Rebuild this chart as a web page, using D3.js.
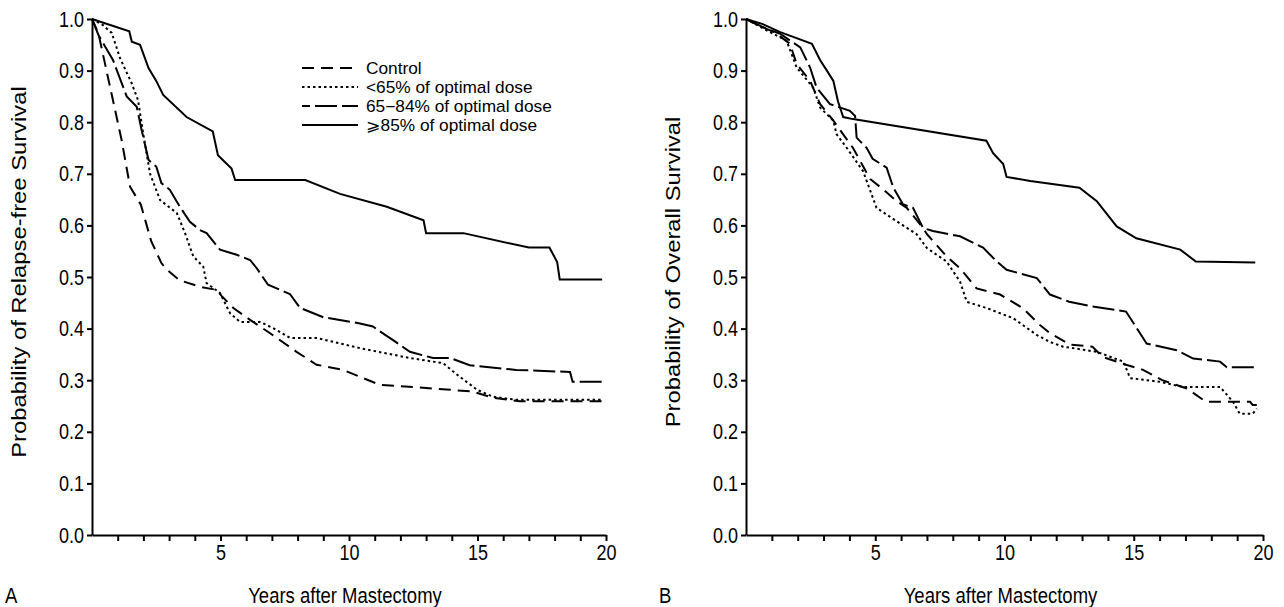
<!DOCTYPE html>
<html>
<head>
<meta charset="utf-8">
<script src="https://cdn.jsdelivr.net/npm/d3@7"></script>
<style>
  body { margin: 0; background: #fff; }
  text { font-family: Arial, "Liberation Sans", sans-serif; fill: #000; }
  .axis path, .axis line { stroke: #000; stroke-width: 2; }
  .axis text { font-size: 18px; }
  .curve { fill: none; stroke: #000; stroke-width: 2; }
</style>
</head>
<body>
<div id="chart"></div>
<script>
// survival curves, [year, probability]
const relapseControl = [[0,1],[0.25,0.972],[0.7,0.869],[1.15,0.766],[1.48,0.675],[1.9,0.64],[2.3,0.57],[2.7,0.527],[2.9,0.515],[3.4,0.494],[4.2,0.481],[4.85,0.475],[5.05,0.463],[5.5,0.44],[6.15,0.417],[6.9,0.392],[7.96,0.355],[8.74,0.33],[9.77,0.32],[10.4,0.307],[11.2,0.291],[13.0,0.285],[14.8,0.278],[15.6,0.266],[16.65,0.259],[19.9,0.259]];
const relapseLow = [[0,1],[0.43,0.988],[0.77,0.973],[1.09,0.924],[1.54,0.876],[1.79,0.843],[1.99,0.779],[2.26,0.7],[2.65,0.649],[3.3,0.624],[3.62,0.585],[3.94,0.54],[4.33,0.52],[4.46,0.488],[4.98,0.469],[5.37,0.43],[5.76,0.413],[6.54,0.413],[7.05,0.401],[7.7,0.382],[8.74,0.382],[10.43,0.362],[12.37,0.343],[13.66,0.333],[14.3,0.307],[15.0,0.281],[15.6,0.268],[16.5,0.262],[19.9,0.262]];
const relapseMid = [[0,1],[0.25,0.969],[0.82,0.92],[1.35,0.85],[1.74,0.83],[1.93,0.785],[2.2,0.727],[2.5,0.714],[2.7,0.682],[3.03,0.669],[3.42,0.636],[3.81,0.607],[4.2,0.591],[4.46,0.585],[4.98,0.553],[5.63,0.543],[6.15,0.533],[6.41,0.517],[6.85,0.485],[7.7,0.467],[8.1,0.44],[9.0,0.422],[10.43,0.41],[10.93,0.404],[11.7,0.378],[12.37,0.355],[13.27,0.343],[13.93,0.343],[14.7,0.329],[16.5,0.32],[18.6,0.316],[18.7,0.297],[19.9,0.297]];
const relapseHigh = [[0,1],[1.45,0.976],[1.55,0.956],[1.87,0.95],[2.2,0.905],[2.5,0.88],[2.77,0.853],[3.68,0.81],[4.7,0.782],[4.9,0.736],[5.43,0.71],[5.57,0.688],[8.3,0.688],[9.65,0.661],[11.47,0.636],[12.9,0.61],[13.0,0.585],[14.45,0.585],[17.0,0.557],[17.8,0.557],[18.1,0.529],[18.2,0.495],[19.85,0.495]];

const overallControl = [[0,1],[0.65,0.984],[1.12,0.974],[1.7,0.952],[1.96,0.913],[2.48,0.88],[2.87,0.835],[3.38,0.803],[4.14,0.75],[4.8,0.69],[5.3,0.67],[5.83,0.647],[6.22,0.634],[6.85,0.595],[7.0,0.583],[7.76,0.54],[8.28,0.517],[8.92,0.478],[9.83,0.466],[10.7,0.44],[11.37,0.407],[11.76,0.391],[12.53,0.369],[13.4,0.365],[13.8,0.345],[14.7,0.33],[15.36,0.32],[16.1,0.3],[17.05,0.284],[17.8,0.258],[19.5,0.258],[19.6,0.252],[19.76,0.252]];
const overallLow = [[0,1],[0.8,0.978],[1.57,0.958],[1.96,0.906],[2.6,0.867],[2.87,0.828],[3.38,0.803],[3.5,0.777],[3.9,0.75],[4.53,0.705],[5.05,0.634],[5.83,0.608],[6.6,0.583],[7.0,0.556],[7.76,0.53],[8.28,0.491],[8.54,0.452],[9.3,0.44],[10.34,0.42],[11.24,0.388],[11.76,0.374],[12.27,0.365],[13.57,0.355],[14.6,0.336],[14.86,0.304],[16.0,0.297],[16.9,0.287],[18.34,0.287],[18.84,0.258],[19.1,0.235],[19.6,0.235],[19.76,0.245]];
const overallMid = [[0,1],[0.8,0.981],[1.3,0.972],[2.1,0.945],[2.48,0.906],[2.73,0.867],[3.25,0.835],[4.02,0.822],[4.22,0.812],[4.28,0.77],[4.67,0.75],[4.9,0.729],[5.44,0.712],[5.7,0.673],[6.07,0.641],[6.46,0.634],[6.85,0.595],[7.23,0.589],[8.28,0.579],[9.17,0.557],[9.7,0.53],[10.08,0.514],[11.25,0.498],[11.76,0.466],[12.5,0.452],[13.4,0.443],[14.7,0.433],[15.5,0.371],[16.66,0.358],[17.3,0.342],[18.34,0.336],[18.6,0.325],[19.76,0.325]];
const overallHigh = [[0,1],[0.65,0.99],[1.3,0.975],[2.55,0.952],[2.87,0.92],[3.13,0.9],[3.38,0.88],[3.56,0.84],[3.76,0.81],[4.14,0.806],[9.3,0.764],[9.56,0.74],[9.95,0.719],[10.08,0.694],[11.0,0.686],[12.9,0.673],[13.57,0.647],[14.34,0.598],[15.1,0.575],[16.8,0.553],[17.4,0.53],[19.7,0.528]];

const legendLabels = ["Control", "<65% of optimal dose", "65\u221284% of optimal dose", "\u2A7E85% of optimal dose"];
const xTicks = d3.range(1, 21);
const xLabelled = [5, 10, 15, 20];
const yTicks = d3.range(0, 11).map(d => d / 10);

const width = 1284, height = 607;
const dashes = ["12,7", "2.5,3", "22,5", "none"];
// the original figure is a bit taller than wide, so the type is stretched
const stretch = 1.22;

const svg = d3.select("#chart").append("svg")
    .attr("width", width)
    .attr("height", height);

function panel(left, right, series, letter, yTitle, withLegend) {
    const x = d3.scaleLinear().domain([0, 20]).range([left, right]);
    const y = d3.scaleLinear().domain([0, 1]).range([535, 19]);

    const xAxis = svg.append("g")
        .attr("class", "axis")
        .attr("transform", `translate(0,${y(0)})`)
        .call(d3.axisBottom(x).tickValues(xTicks).tickSize(6).tickSizeOuter(0)
            .tickFormat(d => xLabelled.includes(d) ? d : ""));
    xAxis.selectAll("text")
        .attr("y", 7.5)
        .attr("transform", `scale(1,${stretch})`);

    const yAxis = svg.append("g")
        .attr("class", "axis")
        .attr("transform", `translate(${left},0)`)
        .call(d3.axisLeft(y).tickValues(yTicks).tickSize(5).tickSizeOuter(0).tickPadding(3)
            .tickFormat(d3.format(".1f")));
    yAxis.selectAll("text")
        .attr("transform", `scale(1,${stretch})`)
        .attr("dy", "0.32em");

    const line = d3.line().x(d => x(d[0])).y(d => y(d[1]));

    series.forEach((s, i) => {
        svg.append("path")
            .attr("class", "curve")
            .attr("d", line(s))
            .attr("stroke-dasharray", dashes[i]);
    });

    // axis titles
    svg.append("text")
        .attr("transform", `translate(${(left + right) / 2 - 4},603) scale(1,${stretch})`)
        .attr("text-anchor", "middle")
        .style("font-size", "18.5px")
        .text("Years after Mastectomy");

    svg.append("text")
        .attr("transform", `translate(${left - 87},603) scale(1,${stretch})`)
        .style("font-size", "18.5px")
        .text(letter);

    svg.append("text")
        .attr("transform", `translate(${left - 66},272) rotate(-90) scale(${stretch},1)`)
        .attr("text-anchor", "middle")
        .style("font-size", "19.5px")
        .text(yTitle);

    if (withLegend) {
        const lg = svg.append("g");
        legendLabels.forEach((t, i) => {
            const yy = 68 + i * 19;
            lg.append("line")
                .attr("x1", 302).attr("x2", 358)
                .attr("y1", yy).attr("y2", yy)
                .attr("stroke", "#000").attr("stroke-width", 2)
                .attr("stroke-dasharray", dashes[i])
                .attr("stroke-dashoffset", i === 2 ? 14 : 0);
            lg.append("text")
                .attr("transform", `translate(366,${yy + 5.5}) scale(1.08,1)`)
                .style("font-size", "16px")
                .text(t);
        });
    }
}

panel(92, 606, [relapseControl, relapseLow, relapseMid, relapseHigh], "A", "Probability of Relapse-free Survival", true);
panel(746, 1263, [overallControl, overallLow, overallMid, overallHigh], "B", "Probability of Overall Survival", false);
</script>
</body>
</html>
